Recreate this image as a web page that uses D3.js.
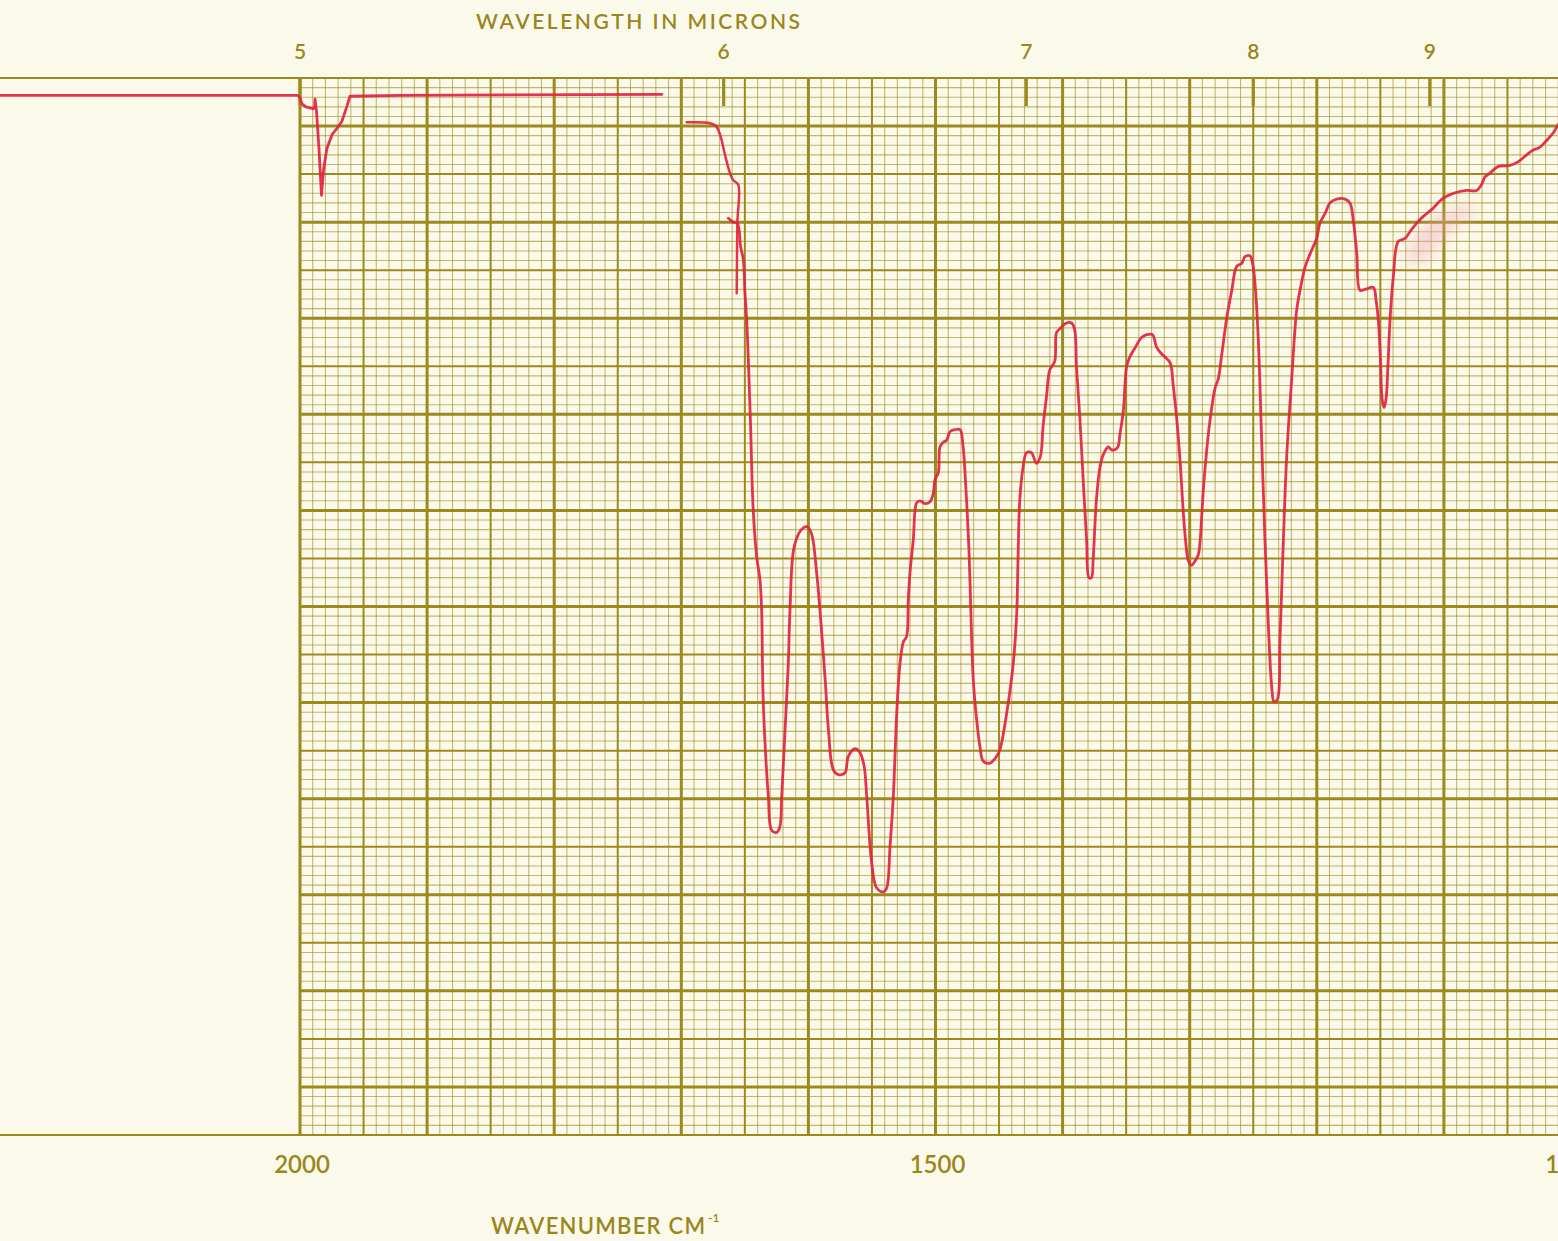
<!DOCTYPE html>
<html>
<head>
<meta charset="utf-8">
<script src="https://cdn.jsdelivr.net/npm/d3@7"></script>
<style>
  html, body { margin: 0; padding: 0; background: #fbfaea; }
  svg { display: block; }
  text { font-family: Lato, "Open Sans", sans-serif; fill: #9a861c; font-weight: 600; }
</style>
</head>
<body>
<svg id="chart" width="1558" height="1241"></svg>
<script>
// Axis ticks
const wavenumberTicks = [2000, 1500, 1000];
const micronTicks = [5, 6, 7, 8, 9];

// Reference pen trace: baseline over the blank margin and the small band near 1983 cm-1
const refWn = [2236, 2001.6, 2000, 1998.4, 1995.3, 1989.8, 1988.6, 1988.2, 1987.0, 1985.0, 1983.1,
  1981.5, 1978.8, 1974.8, 1970.1, 1967.0, 1963.0, 1960.7, 1921.3, 1715.2];
const refT = [103.2, 103.2, 102.9, 102.3, 102.0, 101.8, 101.9, 102.8, 101.5, 97.5, 92.8,
  95.4, 97.7, 99.1, 99.9, 100.5, 102.1, 103.1, 103.2, 103.3];

// Restart of the sweep with the stray pen stroke
const startWn = [1695.8, 1677.4, 1672.7, 1669.5, 1665.6, 1662.4, 1659.3, 1655.2, 1655.9, 1656.4];
const startT = [100.4, 100.3, 100.0, 99.1, 97.0, 95.4, 94.4, 93.9, 89.9, 82.6];

// Main spectrum (wavenumber cm-1, % transmittance)
const mainWn = [1663.0, 1659.1, 1655.9, 1653.3, 1651.2, 1649.9, 1648.6, 1645.8, 1643.4, 1640.7,
  1638.1, 1636.8, 1635.5, 1631.5, 1628.9, 1624.9, 1622.4, 1621.0, 1618.4, 1615.8,
  1614.5, 1611.2, 1605.5, 1601.1, 1597.6, 1593.5, 1590.9, 1586.8, 1584.2, 1580.4,
  1576.5, 1571.2, 1568.6, 1563.3, 1559.9, 1556.3, 1554.1, 1550.2, 1546.3, 1541.0,
  1538.4, 1535.8, 1533.2, 1530.5, 1527.9, 1525.3, 1522.7, 1521.4, 1520.1, 1517.5,
  1514.8, 1512.2, 1508.3, 1504.3, 1501.7, 1500.4, 1497.8, 1496.5, 1493.9, 1491.2,
  1488.6, 1484.7, 1480.7, 1478.4, 1476.0, 1474.0, 1472.9, 1470.3, 1467.6, 1465.0,
  1462.4, 1457.1, 1451.9, 1449.3, 1444.0, 1438.8, 1436.1, 1435.1, 1433.7, 1431.1,
  1428.4, 1424.5, 1420.6, 1417.5, 1415.4, 1412.7, 1410.1, 1406.2, 1404.8, 1402.2,
  1396.9, 1393.0, 1390.5, 1389.1, 1386.5, 1383.7, 1381.1, 1379.2, 1377.3, 1376.0,
  1373.4, 1370.6, 1368.0, 1364.0, 1361.4, 1356.9, 1354.8, 1352.2, 1349.6, 1347.0,
  1343.1, 1337.9, 1333.8, 1329.3, 1326.1, 1322.2, 1318.1, 1315.2, 1312.9, 1310.4,
  1307.6, 1305.0, 1302.9, 1301.1, 1298.5, 1295.9, 1293.2, 1290.6, 1289.3, 1286.6,
  1284.0, 1280.1, 1277.5, 1274.8, 1270.9, 1266.9, 1263.0, 1259.1, 1256.5, 1252.6,
  1250.5, 1248.6, 1246.0, 1243.4, 1240.8, 1238.2, 1235.5, 1233.7, 1231.1, 1229.0,
  1226.3, 1223.7, 1219.8, 1215.8, 1213.2, 1209.3, 1204.0, 1200.1, 1197.5, 1193.5,
  1189.6, 1184.4, 1177.8, 1173.9, 1171.3, 1168.6, 1166.0, 1162.1, 1155.5, 1153.4,
  1151.6, 1149.9, 1148.7, 1147.1, 1145.6, 1144.0, 1142.4, 1139.8, 1135.9, 1130.6,
  1126.7, 1121.4, 1116.2, 1109.7, 1100.5, 1092.6, 1082.2, 1074.3, 1070.4, 1067.7,
  1063.8, 1057.2, 1048.0, 1041.4, 1034.9, 1029.7, 1024.4, 1019.2, 1013.9, 1010.3, 1007.2];
const mainT = [90.4, 90.0, 89.9, 87.4, 86.1, 82.6, 80.0, 70.1, 60.0, 55.2,
  52.8, 49.6, 40.0, 30.2, 26.7, 26.5, 27.1, 30.2, 37.1, 44.1,
  49.6, 56.2, 58.0, 58.3, 57.6, 53.5, 49.6, 42.4, 37.1, 33.0,
  32.5, 32.7, 34.4, 35.2, 34.9, 33.5, 30.2, 23.3, 20.7, 20.3,
  20.7, 25.0, 30.2, 38.9, 44.1, 46.3, 46.9, 50.7, 53.5, 56.9,
  60.8, 61.0, 60.7, 60.9, 61.8, 63.2, 63.9, 66.6, 67.1, 67.3,
  68.2, 68.4, 68.4, 66.8, 62.1, 56.9, 52.8, 42.4, 38.2, 35.4,
  33.9, 33.7, 34.4, 35.1, 38.9, 44.1, 49.3, 54.8, 61.1, 64.5,
  66.0, 66.0, 64.9, 65.6, 68.7, 71.8, 74.6, 75.5, 78.5, 78.9,
  79.5, 79.5, 78.8, 75.0, 69.8, 62.9, 56.9, 53.0, 53.0, 54.8,
  61.1, 64.5, 65.8, 66.6, 66.3, 66.5, 68.0, 70.4, 75.0, 76.0,
  76.9, 78.0, 78.3, 78.3, 77.0, 76.3, 75.8, 75.3, 72.9, 69.8,
  65.2, 59.7, 56.4, 54.8, 54.3, 54.7, 55.4, 59.3, 62.1, 66.3,
  69.4, 72.7, 73.7, 76.2, 80.0, 82.9, 85.4, 85.7, 86.4, 86.5,
  85.7, 83.6, 77.7, 67.3, 56.9, 48.3, 41.7, 40.1, 40.3, 46.5,
  56.9, 65.6, 73.6, 80.9, 82.9, 85.3, 87.1, 88.3, 89.9, 90.9,
  92.0, 92.4, 92.4, 92.0, 90.2, 86.8, 82.9, 83.0, 83.2, 81.9,
  79.8, 75.7, 71.7, 70.7, 71.5, 75.1, 79.8, 84.3, 88.0, 88.3,
  89.0, 89.9, 90.6, 91.3, 92.5, 93.0, 93.3, 93.3, 93.9, 94.7,
  95.1, 95.8, 95.9, 96.3, 97.0, 97.5, 97.8, 98.5, 99.3, 100.1, 100.6];

const W = 1558, H = 1241;
const gridColor = "#9d8a1c";
const penColor = "#e2233f";

const svg = d3.select("#chart");
svg.append("rect").attr("width", W).attr("height", H).attr("fill", "#fbfaea");

// Scales: wavenumber decreasing to the right, transmittance upward
const x = d3.scaleLinear().domain([2000, 1000]).range([300, 1571]);
const y = d3.scaleLinear().domain([-5, 105]).range([1135, 78]);

const defs = svg.append("defs");
defs.append("filter").attr("id", "smear")
  .attr("x", "-50%").attr("y", "-50%").attr("width", "200%").attr("height", "200%")
  .append("feGaussianBlur").attr("stdDeviation", 7);

// Graph paper
const grid = svg.append("g");
const xLeft = x(2000), xRight = x(1000), yTop = y(105), yBot = y(-5);
const weight = v => v % 100 === 0 ? 3 : v % 50 === 0 ? 2 : 1;

// vertical rulings every 10 cm-1
d3.range(1000, 2001, 10).forEach(v => {
  const w = weight(v);
  grid.append("line")
    .attr("x1", x(v)).attr("x2", x(v)).attr("y1", yTop).attr("y2", yBot)
    .attr("stroke", gridColor).attr("stroke-width", w === 1 ? 1.1 : w)
    .attr("stroke-opacity", w === 1 ? 0.6 : 1);
});

// horizontal rulings every 1 %T
d3.range(-5, 106, 1).forEach(t => {
  const w = t % 10 === 0 ? 3 : t % 5 === 0 ? 2 : 1;
  const edge = t === -5 || t === 105;
  grid.append("line")
    .attr("x1", edge ? 0 : xLeft).attr("x2", xRight + 10)
    .attr("y1", y(t)).attr("y2", y(t))
    .attr("stroke", gridColor).attr("stroke-width", w === 1 ? 1.1 : w)
    .attr("stroke-opacity", w === 1 ? 0.6 : 1);
});

// micron tick marks along the top edge
micronTicks.forEach(m => {
  const xv = x(1e4 / m);
  grid.append("line")
    .attr("x1", xv).attr("x2", xv).attr("y1", yTop).attr("y2", yTop + 28)
    .attr("stroke", gridColor).attr("stroke-width", 3.2);
});

// Labels
svg.append("text").attr("x", 476).attr("y", 28.5)
  .attr("font-size", 21).attr("textLength", 324).attr("lengthAdjust", "spacing")
  .text("WAVELENGTH IN MICRONS");

micronTicks.forEach(m => {
  svg.append("text").attr("x", x(1e4 / m)).attr("y", 58.5)
    .attr("text-anchor", "middle").attr("font-size", 21).text(m);
});

wavenumberTicks.forEach(v => {
  svg.append("text").attr("x", x(v) + 2).attr("y", 1172.5)
    .attr("text-anchor", "middle").attr("font-size", 24).text(v);
});

const xl = svg.append("text").attr("x", 491).attr("y", 1234).attr("font-size", 22);
xl.append("tspan").attr("textLength", 214).attr("lengthAdjust", "spacing").text("WAVENUMBER CM");
svg.append("text").attr("x", 708).attr("y", 1222).attr("font-size", 12).text("-1");

// Faint ink smear beside the trace
svg.append("path")
  .attr("d", "M1404,262 L1418,232 L1440,214 L1468,204 L1476,212 L1448,232 L1424,262 Z")
  .attr("fill", "#f0a0b2").attr("opacity", 0.4).attr("filter", "url(#smear)");

// Pen traces
const smooth = d3.line()
  .x(d => x(d[0])).y(d => y(d[1]))
  .curve(d3.curveCatmullRom.alpha(0.5));
const straight = d3.line()
  .x(d => x(d[0])).y(d => y(d[1]));

const traces = [
  { wn: refWn, t: refT, w: 2.8, gen: straight },
  { wn: startWn, t: startT, w: 2.5, gen: smooth },
  { wn: mainWn, t: mainT, w: 2.8, gen: smooth }
];
traces.forEach(tr => {
  svg.append("path")
    .attr("d", tr.gen(d3.zip(tr.wn, tr.t)))
    .attr("fill", "none").attr("stroke", penColor)
    .attr("stroke-width", tr.w)
    .attr("stroke-linejoin", "round").attr("stroke-linecap", "round")
    .attr("stroke-opacity", 0.92);
});
</script>
</body>
</html>
